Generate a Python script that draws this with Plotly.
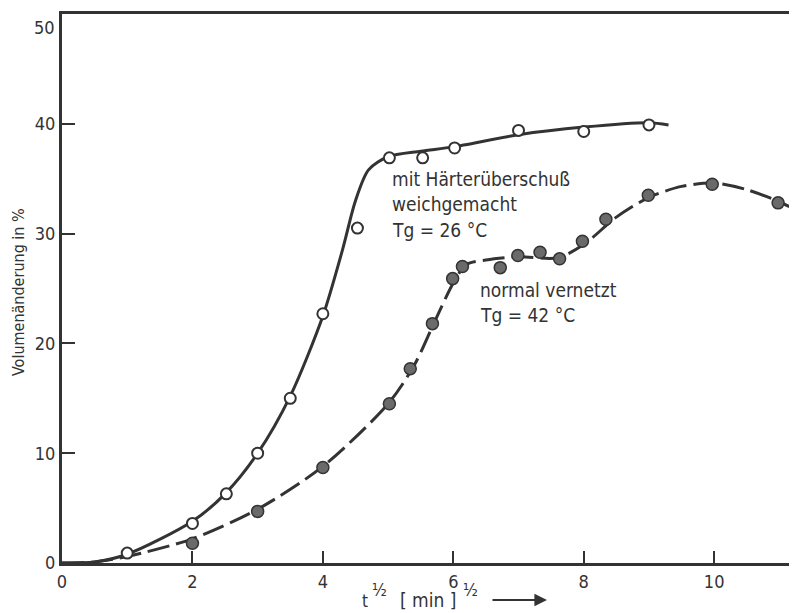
import plotly.graph_objects as go

# --- data ---
# open circles: "mit Härterüberschuß weichgemacht"
open_x = [1.0, 2.0, 2.52, 3.0, 3.5, 4.0, 4.53, 5.02, 5.53, 6.02, 7.0, 8.0, 9.0]
open_y = [0.9, 3.6, 6.3, 10.0, 15.0, 22.7, 30.5, 36.9, 36.9, 37.8, 39.4, 39.3, 39.9]
# hand-drawn solid curve through them
curve1_x = [0.0, 0.5, 1.0, 2.0, 2.5, 3.0, 3.5, 4.0, 4.3, 4.5, 4.7, 5.0, 5.5, 6.0, 7.0, 8.0, 9.0, 9.3]
curve1_y = [0.0, 0.1, 0.8, 3.8, 6.3, 10.0, 15.2, 22.5, 28.5, 33.0, 35.8, 37.0, 37.5, 37.9, 39.0, 39.7, 40.1, 39.9]

# filled circles: "normal vernetzt"
fill_x = [2.0, 3.0, 4.0, 5.02, 5.34, 5.68, 5.99, 6.14, 6.72, 6.99, 7.33, 7.63, 7.98, 8.34, 8.99, 9.97, 10.98]
fill_y = [1.8, 4.7, 8.7, 14.5, 17.7, 21.8, 25.9, 27.0, 26.9, 28.0, 28.3, 27.7, 29.3, 31.3, 33.5, 34.5, 32.8]
# hand-drawn dashed curve
curve2_x = [0.0, 0.5, 1.0, 2.0, 3.0, 4.0, 5.0, 5.4, 5.7, 6.0, 6.2, 6.5, 7.0, 7.6, 8.0, 8.5, 9.0, 9.5, 10.0, 10.5, 11.0, 11.3]
curve2_y = [0.0, 0.1, 0.6, 2.2, 4.9, 8.8, 14.5, 18.0, 21.8, 25.5, 27.2, 27.6, 27.9, 27.8, 29.0, 31.5, 33.3, 34.3, 34.6, 34.0, 32.9, 32.0]

x_ticks = [0, 2, 4, 6, 8, 10]
y_ticks = [0, 10, 20, 30, 40]
y_top_label = "50"

INK = "#333333"
FONT = "DejaVu Sans Condensed, Liberation Sans Narrow, Arial Narrow, sans-serif"

fig = go.Figure()
fig.add_trace(go.Scatter(x=curve1_x, y=curve1_y, mode="lines", line=dict(color=INK, width=3, shape="spline", smoothing=0.8), hoverinfo="skip"))
fig.add_trace(go.Scatter(x=curve2_x, y=curve2_y, mode="lines", line=dict(color=INK, width=3, shape="spline", smoothing=0.8, dash="22px,7px"), hoverinfo="skip"))
fig.add_trace(go.Scatter(x=open_x, y=open_y, mode="markers", marker=dict(symbol="circle", size=11, color="white", line=dict(color=INK, width=2))))
fig.add_trace(go.Scatter(x=fill_x, y=fill_y, mode="markers", marker=dict(symbol="circle", size=12, color="#6a6a6a", line=dict(color=INK, width=1.5))))

# page body has an 8px margin, so the figure is 8px smaller and margins compensate
fig.update_layout(
    width=789, height=605,
    margin=dict(l=54, r=0, t=6, b=50, autoexpand=False),
    paper_bgcolor="white", plot_bgcolor="white",
    showlegend=False,
    font=dict(family=FONT, color=INK, size=17),
)
fig.update_xaxes(
    range=[0, 11.27], showgrid=False, zeroline=False, automargin=False,
    showline=True, linecolor=INK, linewidth=3, mirror=True,
    ticks="inside", ticklen=12, tickwidth=2, tickcolor=INK,
    tickvals=x_ticks, ticktext=[str(v) for v in x_ticks],
    tickfont=dict(size=18, family=FONT),
)
fig.update_yaxes(
    range=[0, 50], showgrid=False, zeroline=False, automargin=False,
    showline=True, linecolor=INK, linewidth=3,
    ticks="inside", ticklen=13, tickwidth=2, tickcolor=INK,
    tickvals=y_ticks, ticktext=[str(v) for v in y_ticks],
    tickfont=dict(size=18, family=FONT),
)

# plot area in page pixels: left 62, width 735, bottom 563, height 549
def px(x):
    return (x - 62) / 735

def py(y):
    return (563 - y) / 549

# "50" label sits just below the top frame line
fig.add_annotation(xref="paper", yref="paper", x=px(57), y=py(28), text=y_top_label, showarrow=False,
                   xanchor="right", yanchor="middle", font=dict(family=FONT, size=18, color=INK))

ann_font = dict(family=FONT, size=19, color=INK)
texts = [
    ("mit Härterüberschuß", 5.03, 35.0),
    ("weichgemacht", 5.03, 32.7),
    ("Tg = 26 °C", 5.03, 30.3),
    ("normal vernetzt", 6.38, 24.9),
    ("Tg = 42 °C", 6.38, 22.6),
]
for t, x, y in texts:
    fig.add_annotation(x=x, y=y, text=t, showarrow=False, xanchor="left", yanchor="middle", font=ann_font)

# y axis title
fig.add_annotation(xref="paper", yref="paper", x=px(18), y=py(292), text="Volumenänderung in %",
                   textangle=-90, showarrow=False, xanchor="center", yanchor="middle", borderpad=0,
                   font=dict(family=FONT, size=16, color=INK))
# x axis title pieces
for t, x, y, s in [("t", 361, 601, 17), ("½", 371, 590, 17), ("[ min ]", 399, 600, 19), ("½", 462, 590, 17)]:
    fig.add_annotation(xref="paper", yref="paper", x=px(x), y=py(y), text=t, showarrow=False,
                       xanchor="left", yanchor="middle", borderpad=0, font=dict(family=FONT, size=s, color=INK))
fig.add_annotation(xref="paper", yref="paper", x=px(547), y=py(600),
                   ax=-56, ay=0, text="", showarrow=True, arrowhead=2, arrowsize=1.4,
                   arrowwidth=1.8, arrowcolor=INK)

fig.write_html("out.html")
